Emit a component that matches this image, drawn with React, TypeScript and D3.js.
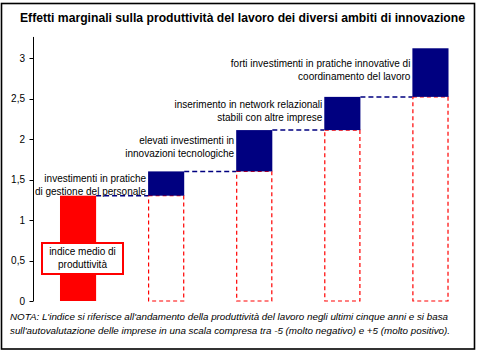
import React from "react";
import * as d3 from "d3";

const title = "Effetti marginali sulla produttività del lavoro dei diversi ambiti di innovazione";
const categories = ["indice", "gestione", "tecnologie", "network", "coordinamento"];
const baseIndex = 1.3;
const marginalEffects = [0.3, 0.51, 0.41, 0.6];
const yTicks = [0, 0.5, 1, 1.5, 2, 2.5, 3];
const labelLines = [
  ["indice medio di", "produttività"],
  ["investimenti in pratiche", "di gestione del personale"],
  ["elevati investimenti in", "innovazioni tecnologiche"],
  ["inserimento in network relazionali", "stabili con altre imprese"],
  ["forti investimenti in pratiche innovative di", "coordinamento del lavoro"],
];
const noteLines = [
  "NOTA: L'indice si riferisce all'andamento della produttività del lavoro negli ultimi cinque anni e si basa",
  "sull'autovalutazione delle imprese in una scala compresa tra -5 (molto negativo) e +5 (molto positivo).",
];

const W = 481;
const H = 355;
const FONT = "'Liberation Sans', Arial, sans-serif";
const NAVY = "#000080";
const RED = "#FF0000";

export default function App() {
  const y = d3.scaleLinear().domain([0, 3]).range([301, 58]);
  const yTop = y(3.26);
  const x = d3
    .scaleBand<string>()
    .domain(categories)
    .range([34, 474.5])
    .paddingInner(0.59)
    .paddingOuter(0.295);
  const bw = x.bandwidth();

  // cumulative tops
  const tops: number[] = [baseIndex];
  marginalEffects.forEach((m, i) => tops.push(+(tops[i] + m).toFixed(3)));
  const fmt = (v: number) => String(v).replace(".", ",");

  // label layout: baseline of the 2nd line relative to the previous connector, in px
  const labelDrop = [0, 1, 14, 9, 17];

  return (
    <svg
      width={W}
      height={H}
      style={{ position: "absolute", left: 0, top: 0, background: "#fff" }}
      fontFamily={FONT}
    >
      <rect x={0} y={0} width={W} height={H} fill="#fff" />
      <rect x={1.5} y={3.5} width={473} height={345.5} fill="none" stroke="#000" strokeWidth={1.6} />
      <text x={20} y={22} fontSize={12.5} fontWeight="bold" textLength={445} lengthAdjust="spacingAndGlyphs">
        {title}
      </text>

      {/* Y axis */}
      <line x1={33.5} x2={33.5} y1={yTop} y2={y(0)} stroke="#000" strokeWidth={1} />
      {yTicks.map((t) => (
        <g key={t}>
          <line x1={29.5} x2={33.5} y1={Math.round(y(t)) + 0.5} y2={Math.round(y(t)) + 0.5} stroke="#000" />
          <text x={25} y={y(t) + 3.5} fontSize={10} textAnchor="end">
            {fmt(t)}
          </text>
        </g>
      ))}

      {/* connectors */}
      {tops.slice(0, -1).map((v, i) => (
        <line
          key={"c" + i}
          x1={(x(categories[i]) as number) + bw}
          x2={x(categories[i + 1]) as number}
          y1={y(v)}
          y2={y(v)}
          stroke={NAVY}
          strokeWidth={1.5}
          strokeDasharray="5,3"
        />
      ))}

      {/* base bar */}
      <rect
        x={x(categories[0])}
        y={y(baseIndex)}
        width={bw}
        height={y(0) - y(baseIndex)}
        fill={RED}
      />

      {/* marginal bars */}
      {marginalEffects.map((m, i) => {
        const c = categories[i + 1];
        const lo = tops[i];
        const hi = tops[i + 1];
        const bx = x(c) as number;
        return (
          <g key={c}>
            <rect
              x={bx + 0.5}
              y={y(lo)}
              width={bw - 1}
              height={y(0) - y(lo)}
              fill="none"
              stroke={RED}
              strokeWidth={1.2}
              strokeDasharray="4,3"
            />
            <rect x={bx} y={y(hi)} width={bw} height={y(lo) - y(hi)} fill={NAVY} />
          </g>
        );
      })}

      {/* labels for marginal bars */}
      {labelLines.slice(1).map((lines, k) => {
        const i = k + 1;
        const ax = (x(categories[i]) as number) - 2;
        const base2 = y(tops[i - 1]) - labelDrop[i];
        return (
          <text key={"l" + i} fontSize={10} textAnchor="end">
            <tspan x={ax} y={base2 - 13}>{lines[0]}</tspan>
            <tspan x={ax} y={base2}>{lines[1]}</tspan>
          </text>
        );
      })}

      {/* index label box */}
      <rect x={42} y={243} width={81} height={31} fill="#fff" stroke={RED} strokeWidth={2} />
      <text fontSize={10} textAnchor="middle">
        <tspan x={82.5} y={254.5}>{labelLines[0][0]}</tspan>
        <tspan x={82.5} y={268}>{labelLines[0][1]}</tspan>
      </text>

      {/* note */}
      <text fontSize={9.5} fontStyle="italic">
        <tspan x={10} y={320} textLength={438} lengthAdjust="spacingAndGlyphs">{noteLines[0]}</tspan>
        <tspan x={10} y={334} textLength={440} lengthAdjust="spacingAndGlyphs">{noteLines[1]}</tspan>
      </text>
    </svg>
  );
}
